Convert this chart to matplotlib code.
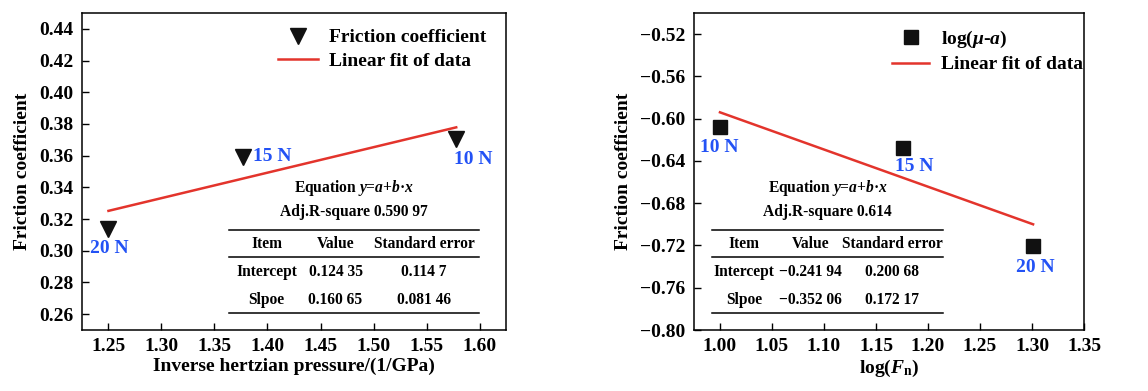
import matplotlib.pyplot as plt
import numpy as np

plt.rcParams['font.family'] = ['Liberation Serif', 'DejaVu Serif']
plt.rcParams['font.weight'] = 'bold'
plt.rcParams['axes.labelweight'] = 'bold'
plt.rcParams['mathtext.fontset'] = 'custom'
plt.rcParams['mathtext.rm'] = 'Liberation Serif:bold'
plt.rcParams['mathtext.it'] = 'Liberation Serif:italic:bold'
plt.rcParams['mathtext.bf'] = 'Liberation Serif:bold'

# left panel: friction vs inverse hertzian pressure
loads = ['10 N', '15 N', '20 N']
inv_pressure = [1.578, 1.377, 1.250]
friction = [0.3705, 0.359, 0.314]
fit_a1, fit_b1 = 0.12435, 0.16065
table1 = [['Intercept', '0.124 35', '0.114 7'],
          ['Slpoe', '0.160 65', '0.081 46']]
r2_1 = '0.590 97'

# right panel: log(mu - a) vs log(Fn)
log_fn = [1.000, 1.176, 1.301]
log_mu = [-0.608, -0.628, -0.7205]
fit_a2, fit_b2 = -0.24194, -0.35206
table2 = [['Intercept', '\u22120.241 94', '0.200 68'],
          ['Slpoe', '\u22120.352 06', '0.172 17']]
r2_2 = '0.614'

blue = '#2352f5'
red = '#e3342c'

fig = plt.figure(figsize=(11.48, 3.91), dpi=100)
ax1 = fig.add_axes([0.0714, 0.156, 0.3694, 0.8108])
ax2 = fig.add_axes([0.6045, 0.156, 0.3398, 0.8108])


def style(ax):
    ax.tick_params(direction='in', length=5, width=1, labelsize=14, pad=6)
    for s in ax.spines.values():
        s.set_linewidth(1.1)
    for lab in ax.get_xticklabels() + ax.get_yticklabels():
        lab.set_fontweight('bold')


def draw_table(ax, x0, x1, cols, eq_x, rows, r2):
    kw = dict(transform=ax.transAxes, ha='center', va='center', fontsize=11.2)
    ax.text(eq_x, 0.448, 'Equation $y$=$a$+$b$\u00b7$x$', **kw)
    ax.text(eq_x, 0.373, 'Adj.R-square ' + r2, **kw)
    for yy in [0.3155, 0.229, 0.0546]:
        ax.plot([x0, x1], [yy, yy], color='black', lw=1.1, transform=ax.transAxes)
    for cx, h in zip(cols, ['Item', 'Value', 'Standard error']):
        ax.text(cx, 0.271, h, **kw)
    for row, yy in zip(rows, [0.183, 0.0946]):
        for cx, t in zip(cols, row):
            ax.text(cx, yy, t, **kw)


# left
xf = np.array([min(inv_pressure), max(inv_pressure)])
ax1.plot(inv_pressure, friction, 'v', color='#111111', ms=11, label='Friction coefficient', zorder=3)
ax1.plot(xf, fit_a1 + fit_b1 * xf, color=red, lw=1.8, label='Linear fit of data')
offs1 = [(17, -21, 'center'), (10, 1, 'left'), (1, -20, 'center')]
for lab, x, y, (dx, dy, ha) in zip(loads, inv_pressure, friction, offs1):
    ax1.annotate(lab, (x, y), xytext=(dx, dy), textcoords='offset pixels',
                 ha=ha, va='center', color=blue, fontsize=14)
ax1.set_xlim(1.225, 1.625)
ax1.set_ylim(0.25, 0.45)
ax1.set_xticks(np.arange(1.25, 1.601, 0.05))
ax1.set_yticks(np.arange(0.26, 0.441, 0.02))
ax1.xaxis.set_major_formatter(plt.FuncFormatter(lambda v, _: f'{v:.2f}'))
ax1.yaxis.set_major_formatter(plt.FuncFormatter(lambda v, _: f'{v:.2f}'))
ax1.set_xlabel('Inverse hertzian pressure/(1/GPa)', fontsize=14, labelpad=2)
ax1.set_ylabel('Friction coefficient', fontsize=14, labelpad=6)
ax1.legend(loc='upper left', bbox_to_anchor=(0.462, 0.95), frameon=False, fontsize=14,
           borderpad=0, borderaxespad=0, labelspacing=0.3, handlelength=2.05,
           handletextpad=0.6)
draw_table(ax1, 0.346, 0.937, [0.4356, 0.598, 0.807], 0.6415, table1, r2_1)
style(ax1)

# right
xf = np.array([min(log_fn), max(log_fn)])
ax2.plot(log_fn, log_mu, 's', color='#111111', ms=9.5, label='log($\\mu$-$a$)', zorder=3)
ax2.plot(xf, fit_a2 + fit_b2 * xf, color=red, lw=1.8, label='Linear fit of data')
offs2 = [(-1, -20, 'center'), (11, -18, 'center'), (2, -22, 'center')]
for lab, x, y, (dx, dy, ha) in zip(loads, log_fn, log_mu, offs2):
    ax2.annotate(lab, (x, y), xytext=(dx, dy), textcoords='offset pixels',
                 ha=ha, va='center', color=blue, fontsize=14)
ax2.set_xlim(0.975, 1.35)
ax2.set_ylim(-0.80, -0.50)
ax2.set_xticks(np.arange(1.00, 1.351, 0.05))
ax2.set_yticks(np.arange(-0.80, -0.519, 0.04))
ax2.xaxis.set_major_formatter(plt.FuncFormatter(lambda v, _: f'{v:.2f}'))
ax2.yaxis.set_major_formatter(plt.FuncFormatter(lambda v, _: f'{v:.2f}'.replace('-', '\u2212')))
ax2.set_xlabel('log($F_\\mathrm{n}$)', fontsize=14, labelpad=2)
ax2.set_ylabel('Friction coefficient', fontsize=14, labelpad=6)
ax2.legend(loc='upper left', bbox_to_anchor=(0.508, 0.95), frameon=False, fontsize=14,
           borderpad=0, borderaxespad=0, labelspacing=0.3, handlelength=1.9,
           handletextpad=0.6)
draw_table(ax2, 0.045, 0.638, [0.128, 0.299, 0.508], 0.342, table2, r2_2)
style(ax2)

fig.savefig('out.png', dpi=100)
